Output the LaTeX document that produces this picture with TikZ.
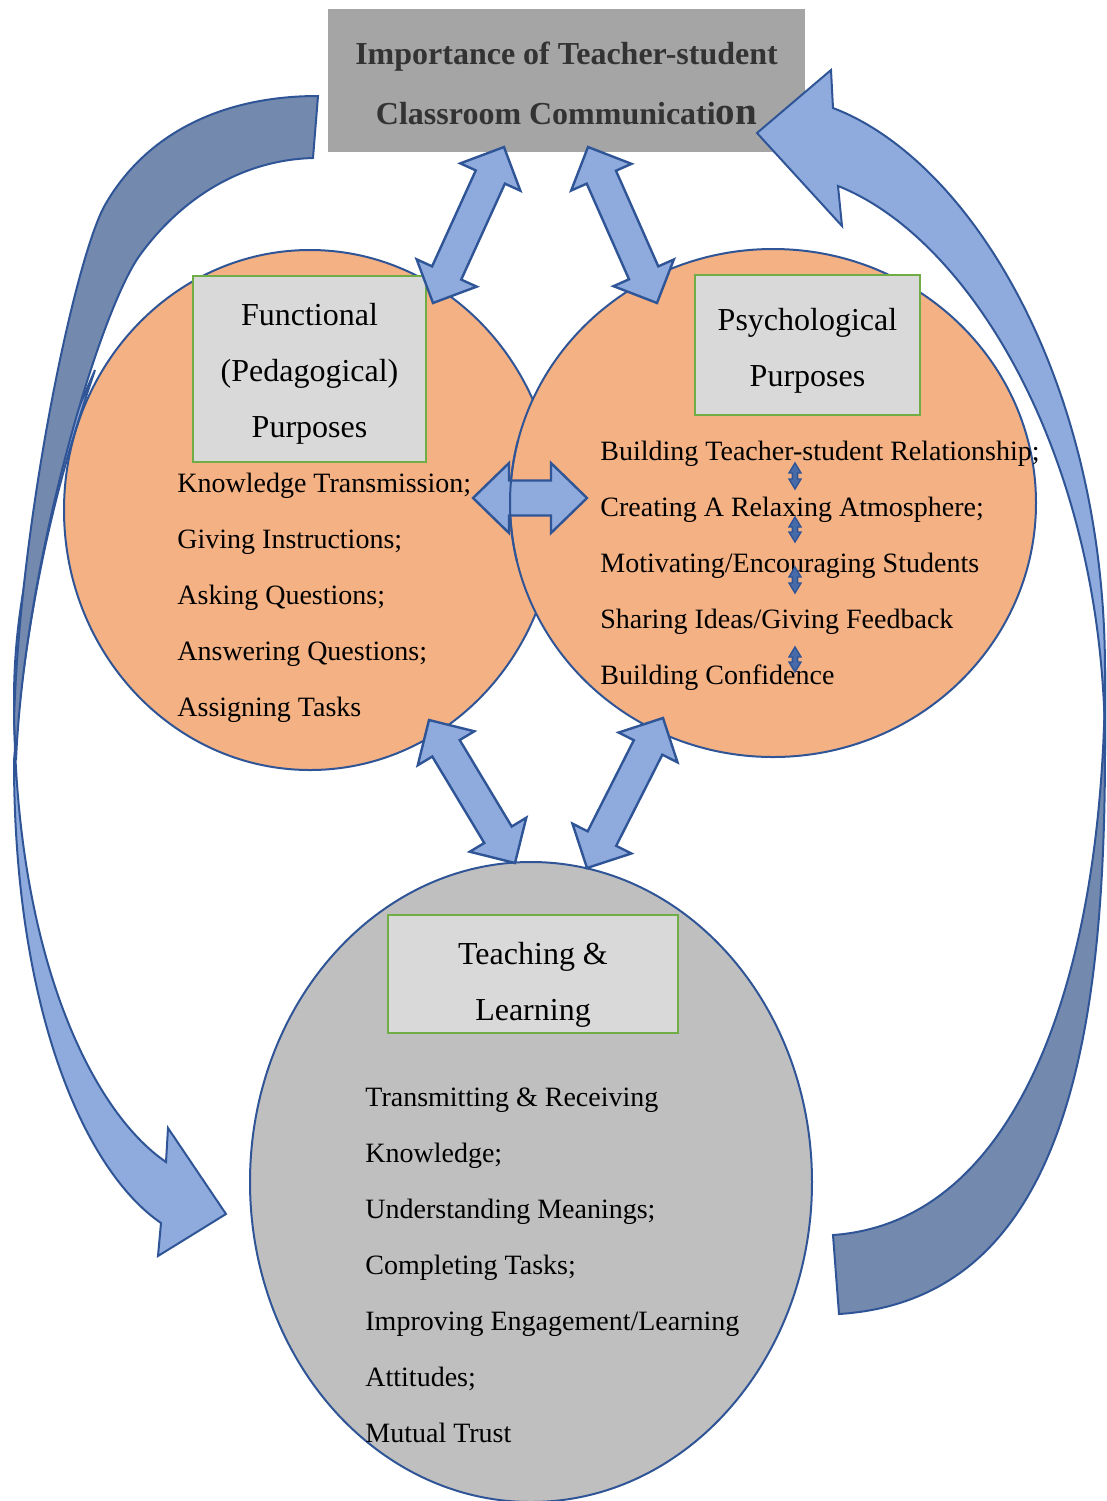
\documentclass[tikz,border=0pt]{standalone}
\usepackage{fontspec}
\setmainfont{Liberation Serif}
\usetikzlibrary{shapes.geometric,calc,positioning}

\definecolor{titlegray}{HTML}{A5A5A5}
\definecolor{titletext}{HTML}{333333}
\definecolor{peach}{HTML}{F4B183}
\definecolor{ovalgray}{HTML}{BFBFBF}
\definecolor{boxgray}{HTML}{D9D9D9}
\definecolor{boxgreen}{HTML}{70AD47}
\definecolor{arrowblue}{HTML}{8FAADC}
\definecolor{arrowdark}{HTML}{7389AE}
\definecolor{edgeblue}{HTML}{2F5597}

\tikzset{
  circ/.style={ellipse, draw=edgeblue, line width=1pt, inner sep=0pt},
  headbox/.style={rectangle, draw=boxgreen, fill=boxgray, line width=0.8pt, inner sep=0pt},
  headtext/.style={align=center, inner sep=0pt, font=\fontsize{16}{28}\selectfont},
  listtext/.style={anchor=north west, align=left, inner sep=0pt, font=\fontsize{14}{28}\selectfont},
  blockarrow/.style={fill=arrowblue, draw=edgeblue, line width=1.2pt, line join=miter},
  tinyarrow/.style={fill=edgeblue!75!arrowblue, line width=0.7pt},
  curvelight/.style={fill=arrowblue, draw=edgeblue, line width=1pt},
  curvedark/.style={fill=arrowdark, draw=edgeblue, line width=1pt}
}

% double block arrow between two tips: [style]{tip}{tip}{head length}{head half width}{shaft half width}
\newcommand{\dblarrow}[6][]{%
  \coordinate (ba1) at ($(#2)!#4!(#3)$);
  \coordinate (ba2) at ($(#3)!#4!(#2)$);
  \filldraw[blockarrow,#1] (#2) -- ($(ba1)!#5!90:(#3)$) -- ($(ba1)!#6!90:(#3)$)
    -- ($(ba2)!#6!-90:(#2)$) -- ($(ba2)!#5!-90:(#2)$) -- (#3)
    -- ($(ba2)!#5!90:(#2)$) -- ($(ba2)!#6!90:(#2)$)
    -- ($(ba1)!#6!-90:(#3)$) -- ($(ba1)!#5!-90:(#3)$) -- cycle;}

\begin{document}
\begin{tikzpicture}[x=0.5pt,y=-0.5pt]
   \useasboundingbox (0,0) rectangle (1107,1501);

   % the three circles
   \node[circ, fill=peach, minimum width=246pt, minimum height=260pt] (func) at (310,510) {};
   \node[circ, fill=peach, minimum width=263pt, minimum height=254pt] (psy) at (773,503) {};
   \node[circ, fill=ovalgray, minimum width=281pt, minimum height=320pt] (teach) at (531,1182) {};

   % title
   \node[fill=titlegray, minimum width=238.5pt, minimum height=71.5pt] (title) at (566.5,80.5) {};
   \node[align=center, inner sep=0pt, text=titletext, font=\fontsize{16}{30}\selectfont\bfseries] (titletxt)
        at ([yshift=-1.5pt]title.center) {Importance of Teacher-student\\Classroom Communicati{\fontsize{19.5}{30}\selectfont on}};

   % curved arrow on the left
   \filldraw[curvelight] (14,700) .. controls (14,950) and (90,1110) .. (166,1162) -- (168,1128) -- (226,1214)
      -- (158,1256) -- (161,1223) .. controls (85,1171) and (14,1011) .. (14,761)
      .. controls (30,560) and (75,430) .. (95,370) .. controls (60,450) and (14,560) .. (14,700) -- cycle;
   \filldraw[curvedark] (318,96) .. controls (220,96) and (145,135) .. (105,205)
      .. controls (75,258) and (20,520) .. (14,720) -- (16,760)
      .. controls (25,560) and (100,310) .. (140,255) .. controls (180,200) and (240,160) .. (313,158) -- cycle;

   % curved arrow on the right
   \filldraw[curvelight] (833,108) -- (831,70) -- (757,133) -- (842,226) -- (838,186)
      .. controls (970,238) and (1105,458) .. (1105,749) -- (1105,671)
      .. controls (1105,380) and (970,160) .. (833,108) -- cycle;
   \filldraw[curvedark] (1105,671) .. controls (1105,972) and (1020,1222) .. (833,1235) -- (839,1314)
      .. controls (1060,1300) and (1105,1050) .. (1105,749) -- cycle;

   % heading boxes
   \node[headbox, minimum width=116.5pt, minimum height=93pt] (funcbox) at (309.5,369) {};
   \node[headbox, minimum width=112.5pt, minimum height=70pt] (psybox) at (807.5,345) {};
   \node[headbox, minimum width=145pt, minimum height=59pt] (teachbox) at (533,974) {};
   \node[headtext] (funchead) at ([yshift=-2.5pt]funcbox.center) {Functional\\(Pedagogical)\\Purposes};
   \node[headtext] (psyhead) at ([yshift=-3pt]psybox.center) {Psychological\\Purposes};
   \node[headtext] (teachhead) at ([yshift=-5.5pt]teachbox.center) {Teaching \&\\Learning};

   % block arrows
   \coordinate (tl1) at (504,147);
   \coordinate (tl2) at (433,303);
   \coordinate (tr1) at (588,147);
   \coordinate (tr2) at (657,303);
   \coordinate (bl1) at (429,720);
   \coordinate (bl2) at (515,863);
   \coordinate (br1) at (663,718);
   \coordinate (br2) at (587,868);
   \coordinate (mid1) at (473,498);
   \coordinate (mid2) at (587,498);
   \dblarrow{tl1}{tl2}{16.5pt}{16.5pt}{8pt}
   \dblarrow{tr1}{tr2}{16.5pt}{16.5pt}{8pt}
   \dblarrow{bl1}{bl2}{16.5pt}{16.5pt}{8pt}
   \dblarrow{br1}{br2}{16.5pt}{16.5pt}{8pt}
   \dblarrow{mid1}{mid2}{18pt}{17.5pt}{8.75pt}

   % edge of the right circle shows across the middle arrow
   \begin{scope}
      \clip (460,440) rectangle (600,560);
      \draw[edgeblue, line width=1pt] (psy.center) ellipse [x radius=263, y radius=254];
   \end{scope}

   % lists
   \node[listtext] (funclist) at (177,473) {Knowledge Transmission;\\Giving Instructions;\\Asking Questions;\\Answering Questions;\\Assigning Tasks};
   \node[listtext] (psylist) at (600,441) {Building Teacher-student Relationship;\\Creating A Relaxing Atmosphere;\\Motivating/Encouraging Students\\Sharing Ideas/Giving Feedback\\Building Confidence};
   \node[listtext] (teachlist) at (365,1087) {Transmitting \& Receiving\\Knowledge;\\Understanding Meanings;\\Completing Tasks;\\Improving Engagement/Learning\\Attitudes;\\Mutual Trust};

   % small arrows between the psychological items
   \coordinate (s1a) at (795,463);
   \coordinate (s1b) at (795,489);
   \coordinate (s2a) at (795,517);
   \coordinate (s2b) at (795,542);
   \coordinate (s3a) at (795,567);
   \coordinate (s3b) at (795,593);
   \coordinate (s4a) at (795,647);
   \coordinate (s4b) at (795,672);
   \dblarrow[tinyarrow]{s1a}{s1b}{5pt}{3pt}{1.3pt}
   \dblarrow[tinyarrow]{s2a}{s2b}{5pt}{3pt}{1.3pt}
   \dblarrow[tinyarrow]{s3a}{s3b}{5pt}{3pt}{1.3pt}
   \dblarrow[tinyarrow]{s4a}{s4b}{5pt}{3pt}{1.3pt}
\end{tikzpicture}
\end{document}
